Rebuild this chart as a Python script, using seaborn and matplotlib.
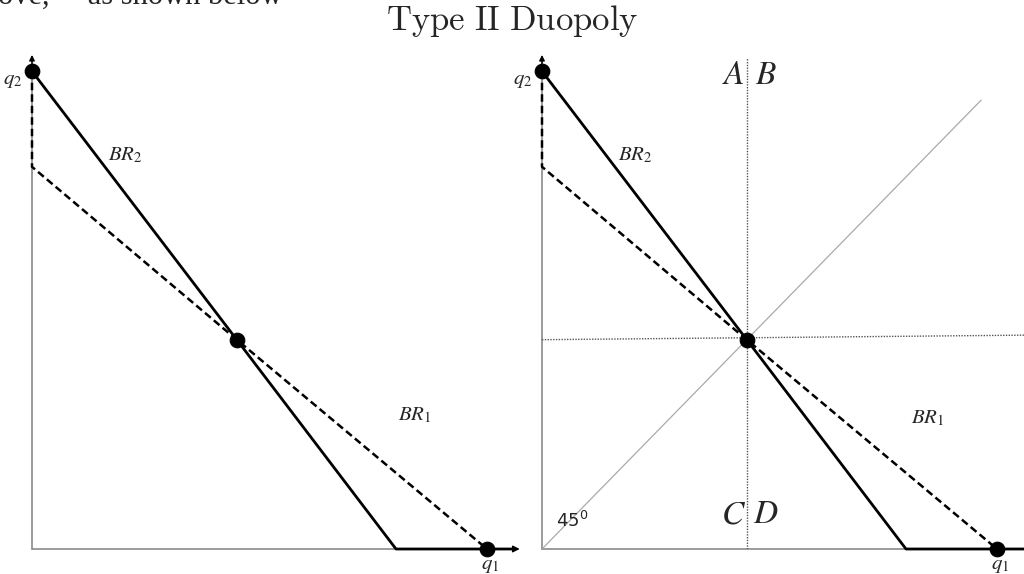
import matplotlib
matplotlib.use("Agg")
import matplotlib.pyplot as plt
import pandas as pd
import seaborn as sns

# ---- data (units: quantity) ----
br2_q1 = [0.0, 4.5, 8.0, 10.6]
br2_q2 = [10.5, 4.6, 0.0, 0.0]
br1_q1 = [0.0, 0.0, 4.5, 10.0]
br1_q2 = [10.5, 8.4, 4.6, 0.0]
points_q1 = [0.0, 4.5, 10.0]
points_q2 = [10.5, 4.6, 0.0]
eq_q1, eq_q2 = 4.5, 4.6
diag_end = 9.65

sns.set_theme(style="white")

W, H = 1024, 574
PX = 45.5  # pixels per unit
fig = plt.figure(figsize=(W / 100, H / 100), dpi=100)


def make_ax(x0_px, width_px):
    bottom_px = 25
    height_px = 500
    ax = fig.add_axes([x0_px / W, bottom_px / H, width_px / W, height_px / H])
    ax.set_xlim(0, width_px / PX)
    ax.set_ylim(0, height_px / PX)
    ax.axis("off")
    return ax


def label(ax, x, y, s, size=15):
    ax.text(x, y, s, fontsize=size, ha="center", va="center", math_fontfamily="stix")


def draw_panel(ax, x_end, y_end):
    # axes lines
    ax.plot([0, x_end], [0, 0], color="#8a8a8a", lw=1.2, clip_on=False, zorder=1)
    ax.plot([0, 0], [0, y_end], color="#8a8a8a", lw=1.2, clip_on=False, zorder=1)
    ax.annotate("", xy=(0, 10.92), xytext=(0, 10.6),
                arrowprops=dict(arrowstyle="-|>", color="black", lw=1, mutation_scale=8))
    br2 = pd.DataFrame({"q1": br2_q1, "q2": br2_q2})
    br1 = pd.DataFrame({"q1": br1_q1, "q2": br1_q2})
    sns.lineplot(data=br2, x="q1", y="q2", sort=False, estimator=None, ax=ax,
                 color="black", lw=2.0, clip_on=False, zorder=3)
    sns.lineplot(data=br1, x="q1", y="q2", sort=False, estimator=None, ax=ax,
                 color="black", lw=1.8, clip_on=False, zorder=3)
    ax.lines[-1].set_dashes((3.0, 1.6))
    pts = pd.DataFrame({"q1": points_q1, "q2": points_q2})
    sns.scatterplot(data=pts, x="q1", y="q2", ax=ax, s=110, color="black",
                    edgecolor="black", clip_on=False, zorder=5)
    ax.set_xlabel("")
    ax.set_ylabel("")
    label(ax, -0.42, 10.3, r"$q_2$")
    label(ax, 2.05, 8.66, r"$BR_2$")
    label(ax, 10.07, -0.36, r"$q_1$")


# left panel
axL = make_ax(32, 490)
draw_panel(axL, 10.66, 10.8)
axL.annotate("", xy=(10.78, 0), xytext=(10.5, 0),
             arrowprops=dict(arrowstyle="-|>", color="black", lw=1, mutation_scale=10))
label(axL, 8.42, 2.95, r"$BR_1$")

# right panel
axR = make_ax(542, 482)
draw_panel(axR, 10.6, 10.8)
label(axR, 8.48, 2.88, r"$BR_1$")
axR.plot([eq_q1, eq_q1], [0, 10.8], color="#555555", lw=1.0, ls=(0, (1, 1)), zorder=2)
axR.plot([0, 10.6], [eq_q2, eq_q2 + 0.1], color="#555555", lw=1.0, ls=(0, (1, 1)), zorder=2)
axR.plot([0, diag_end], [0, diag_end * eq_q2 / eq_q1], color="#aaaaaa", lw=0.9, zorder=2)
for lab, x, y in [("A", 4.2, 10.42), ("B", 4.92, 10.42), ("C", 4.2, 0.78), ("D", 4.92, 0.78)]:
    label(axR, x, y, "$" + lab + "$", size=24)
axR.text(0.66, 0.62, r"$45^0$", fontsize=13, ha="center", va="center",
         family="DejaVu Sans", math_fontfamily="dejavusans")

# titles
fig.text(0.5, 1 - 21 / H, r"$\mathrm{Type\ II\ Duopoly}$", fontsize=25, ha="center",
         va="center", math_fontfamily="cm")
fig.text(-2 / W, 1 - 4 / H, "ove,     as shown below", fontsize=22, ha="left",
         va="baseline", family="Liberation Serif")

fig.savefig("out.png", dpi=100)
